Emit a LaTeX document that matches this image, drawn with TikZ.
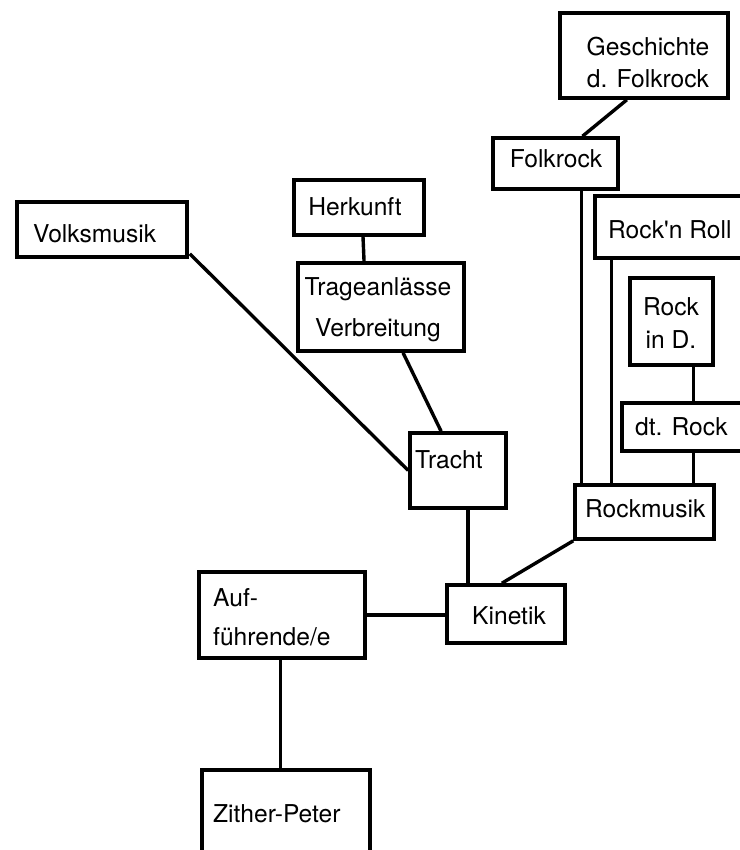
\documentclass[tikz,border=0pt]{standalone}
\usepackage{fontspec}
\setmainfont{TeX Gyre Heros}[Ligatures=TeXOff]
\usetikzlibrary{calc}

\tikzset{
  box/.style={draw=black, line width=3.6bp, rectangle, inner sep=0pt},
  link/.style={draw=black, line width=3.4bp},
  lbl/.style={inner sep=0pt, text=black, font=\fontsize{24.6bp}{33bp}\selectfont},
}

% \topicbox{name}{left}{top}{right}{bottom}
\newcommand\topicbox[5]{%
  \node[box, minimum width={(#4-#2)*1bp}, minimum height={(#5-#3)*1bp}]
    (#1) at ({(#2+#4)/2},{(#3+#5)/2}) {};}

\begin{document}
\begin{tikzpicture}[x=1bp, y=-1bp]
  \path[use as bounding box, fill=white] (0,0) rectangle (740,850);
  \clip (0,0) rectangle (740,850);

  % boxes
  \topicbox{gf}{560}{13}{728}{98}
  \topicbox{fr}{493}{138}{618}{189}
  \topicbox{vm}{17}{202}{187}{257}
  \topicbox{hk}{294}{180}{424}{235}
  \topicbox{tv}{298}{263}{464}{351}
  \topicbox{tr}{410}{433}{506}{508}
  \topicbox{rr}{595}{196}{770}{258}
  \topicbox{rd}{630}{278}{713}{365}
  \topicbox{dr}{622}{403}{770}{451}
  \topicbox{rm}{575}{485}{714}{539}
  \topicbox{ki}{447}{585}{565}{643}
  \topicbox{af}{199}{572}{365}{658}
  \topicbox{zp}{202}{770}{370}{890}

  % labels (multi-line labels are anchored on their last baseline)
  \node[lbl, align=center, anchor=base, font=\fontsize{24.6bp}{32bp}\selectfont]
    (gf-t) at (648,87) {Geschichte\\d. Folkrock};
  \node[lbl, anchor=base] (fr-t) at (556,167) {Folkrock};
  \node[lbl, anchor=base west] (vm-t) at (33,242) {Volksmusik};
  \node[lbl, anchor=base] (hk-t) at (355,215) {Herkunft};
  \node[lbl, align=center, anchor=base, font=\fontsize{24.6bp}{41bp}\selectfont]
    (tv-t) at (378,336) {Trageanlässe\\Verbreitung};
  \node[lbl, anchor=base west] (tr-t) at (415,468) {Tracht};
  \node[lbl, anchor=base west] (rr-t) at (608,238) {Rock'n Roll};
  \node[lbl, align=center, anchor=base, font=\fontsize{24.6bp}{33bp}\selectfont]
    (rd-t) at (671,348) {Rock\\in D.};
  \node[lbl, anchor=base west] (dr-t) at (635,435) {dt. Rock};
  \node[lbl, anchor=base west] (rm-t) at (585,517) {Rockmusik};
  \node[lbl, anchor=base west] (ki-t) at (472,624) {Kinetik};
  \node[lbl, align=left, anchor=base west, font=\fontsize{24.6bp}{39bp}\selectfont]
    (af-t) at (213,645) {Auf-\\führende/e};
  \node[lbl, anchor=base west] (zp-t) at (213,822) {Zither-Peter};

  % connectors
  \draw[link] ($(gf.south west)!0.40!(gf.south east)$) -- ($(fr.north west)!0.71!(fr.north east)$);
  \coordinate (fr-down) at ($(rm.north west)!0.058!(rm.north east)$);
  \draw[link] (fr-down) -- (fr-down |- fr.south);
  \coordinate (rr-down) at ($(rm.north west)!0.27!(rm.north east)$);
  \draw[link] (rr-down) -- (rr-down |- rr.south);
  \coordinate (dr-down) at ($(rm.north west)!0.845!(rm.north east)$);
  \draw[link] (dr-down) -- (dr-down |- dr.south);
  \coordinate (rd-down) at (dr-down |- dr.north);
  \draw[link] (rd-down) -- (rd-down |- rd.south);
  \draw[link] (rm.south west) -- ($(ki.north west)!0.466!(ki.north east)$);
  \coordinate (tr-down) at ($(tr.south west)!0.6!(tr.south east)$);
  \draw[link] (tr-down) -- (tr-down |- ki.north);
  \draw[link] (af.east) -- (af.east -| ki.west);
  \coordinate (af-down) at ($(af.south west)!0.49!(af.south east)$);
  \draw[link] (af-down) -- (af-down |- zp.north);
  \draw[link] ($(vm.south east)+(1,-5)$) -- (tr.west);
  \draw[link] ($(tv.south west)!0.63!(tv.south east)$) -- ($(tr.north west)!0.33!(tr.north east)$);
  \draw[link] ($(hk.south west)!0.53!(hk.south east)$) -- ($(tv.north west)!0.40!(tv.north east)$);
\end{tikzpicture}
\end{document}
